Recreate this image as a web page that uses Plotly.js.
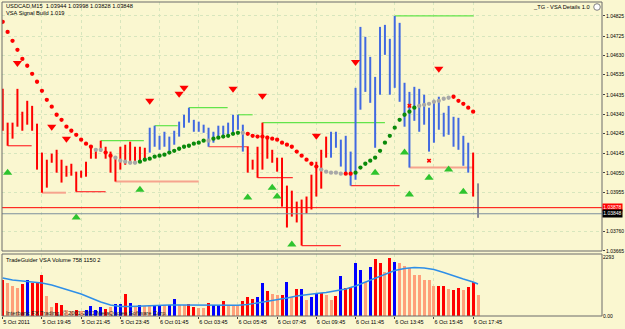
<!DOCTYPE html>
<html><head><meta charset="utf-8">
<script src="https://cdn.plot.ly/plotly-3.0.1.min.js"></script>
<style>html,body{margin:0;padding:0;background:#faf7d0;}#chart{width:625px;height:329px;}</style>
</head><body><div id="chart"></div>
<script>
// ---- main price bars (USDCAD M15) ----
const high = [1.04465,1.04298,1.04298,1.04465,1.04352,1.04406,1.04381,1.04293,1.04150,1.04115,
 1.04145,1.04164,1.04115,1.04085,1.04095,1.04056,1.04061,1.04105,1.04179,1.04164,
 1.04209,1.04179,1.04155,1.04130,1.04179,1.04189,1.04204,1.04179,1.04179,1.04174,
 1.04273,1.04283,1.04233,1.04253,1.04229,1.04258,1.04303,1.04337,1.04372,1.04312,
 1.04303,1.04288,1.04273,1.04253,1.04283,1.04283,1.04298,1.04337,1.04337,1.04288,
 1.04179,1.04115,1.04179,1.04298,1.04233,1.04164,1.04125,1.04125,1.03987,1.03962,
 1.03908,1.03918,1.03933,1.04041,1.04105,1.04164,1.04229,1.04253,1.04253,1.04214,
 1.04233,1.04155,1.04470,1.04771,1.04722,1.04623,1.04524,1.04771,1.04781,1.04712,
 1.04825,1.04791,1.04495,1.04450,1.04475,1.04465,1.04436,1.04372,1.04411,1.04426,
 1.04347,1.04381,1.04327,1.04322,1.04233,1.04199,1.04150,1.03998];
const low = [1.04258,1.04184,1.04219,1.04278,1.04258,1.04288,1.04258,1.04066,1.03952,1.03977,
 1.04100,1.04051,1.04002,1.04031,1.04036,1.03957,1.04026,1.04031,1.04120,1.04120,
 1.04155,1.04120,1.04051,1.04007,1.04066,1.04090,1.04105,1.04095,1.04105,1.04110,
 1.04150,1.04179,1.04164,1.04179,1.04159,1.04189,1.04229,1.04273,1.04298,1.04253,
 1.04253,1.04248,1.04179,1.04199,1.04219,1.04229,1.04233,1.04243,1.04263,1.04155,
 1.04051,1.04066,1.04026,1.04066,1.04120,1.04100,1.04056,1.03883,1.03780,1.03834,
 1.03805,1.03691,1.03849,1.03869,1.03933,1.03972,1.04125,1.04125,1.04174,1.04081,
 1.04041,1.03987,1.04016,1.04362,1.04450,1.04396,1.04174,1.04436,1.04633,1.04436,
 1.04470,1.04401,1.04278,1.04076,1.04307,1.04253,1.04288,1.04155,1.04199,1.04263,
 1.04229,1.04238,1.04179,1.04164,1.04085,1.04051,1.03933,1.03828];
// R = red bar, B = blue bar, K = current bar
const barKind = ["RRRRRRRRRR","RRRRRRRRRR","RRRRRRRRRR","BBBBBBBBBB","BBBBBBBBBB",
 "RRRRRRRRRR","RRRRRRRBBB","BBBBBBBBBB","BBBBBBBBBB","BBBBBBRK"].join("");

// ---- trend dots ----
const trendDot = [1.04796,1.04746,1.04702,1.04658,1.04613,1.04579,1.04539,1.04500,1.04455,1.04411,
 1.04377,1.04337,1.04312,1.04278,1.04258,1.04238,1.04214,1.04194,1.04179,1.04164,
 1.04164,1.04150,1.04135,1.04125,1.04110,1.04105,1.04100,1.04100,1.04105,1.04115,
 1.04120,1.04130,1.04135,1.04140,1.04150,1.04159,1.04169,1.04179,1.04184,1.04194,
 1.04199,1.04209,1.04209,1.04219,1.04224,1.04229,1.04233,1.04243,1.04248,1.04248,
 1.04243,1.04233,1.04229,1.04229,1.04224,1.04219,1.04214,1.04199,1.04189,1.04179,
 1.04155,1.04135,1.04115,1.04095,1.04081,1.04066,1.04056,1.04051,1.04051,1.04046,
 1.04046,1.04046,1.04051,1.04076,1.04095,1.04110,1.04125,1.04159,1.04199,1.04233,
 1.04273,1.04312,1.04337,1.04352,1.04372,1.04381,1.04386,1.04391,1.04401,1.04406,
 1.04416,1.04421,1.04426,1.04406,1.04391,1.04372,1.04352];
// R = down, G = up, N = neutral
const trendKind = ["RRRRRRRRRR","RRRRRRRRRN","NRRNNNNNGG","GGGGGGGGGG","GGNGGGGGGN",
 "RRRRRRRRRR","RRRRRNNNNN","RRGGGGGGGG","GGGGGNNNNN","NNRRRRR"].join("");

// ---- signals ----
const downSigX = [3,10,13,30,36,37,47,53,64,72,89];
const downSigY = [1.04593,1.04278,1.04219,1.04406,1.04441,1.04470,1.04465,1.04431,1.04233,1.04598,1.04564];
const upSigX = [1,15,28,50,55,56,59,76,82,83,87,91,94];
const upSigY = [1.04051,1.03829,1.03967,1.03928,1.03977,1.03933,1.03696,1.04051,1.04150,1.03943,1.04026,1.04066,1.03957];
const crossX = [83,87];
const crossY = [1.04381,1.04110];

// ---- support / resistance levels ----
const levelFrom  = [1, 8, 15, 20, 23, 31, 38, 42, 48, 52, 53, 61, 71, 80, 83];
const levelTo    = [5.9, 12.9, 21, 28.8, 40, 35.7, 45.9, 50.2, 51, 59.2, 78, 69, 81, 96.1, 96.1];
const levelPrice = [1.04184,1.03952,1.03957,1.04209,1.04007,1.04283,1.04372,1.04179,1.04337,1.04026,1.04298,1.03691,1.03987,1.04825,1.04076];
const levelKind  = "RSRGSGGRGRGRRGS";

const bidPrice = 1.03878, lastPrice = 1.03848;

// ---- volume ----
const volume = [1405,1310,1180,1120,1271,1405,1310,1338,1602,787,
 354,512,445,224,185,224,185,224,394,224,
 354,287,354,460,460,854,523,354,421,382,
 421,421,421,445,445,657,421,445,460,354,
 327,327,512,421,421,578,421,421,421,578,
 748,681,748,1299,972,877,814,838,1338,748,
 1051,1051,618,748,905,905,814,618,799,1574,
 1090,1153,2097,1810,1350,1940,2231,2097,1743,2293,
 2137,2074,1968,1877,1613,1613,1417,1417,1181,1181,
 1181,1062,1023,1102,1023,1141,1338,826];
const volKind = ["RSSSRBRRRS","SRRSSRSBBB","BRSBBRBSBS","SBBSBBSSRR","SSRBBRSSSR",
 "RRBBRSSRBS","RBSBBRSSRB","RRBBSBRRSR","BSSSSSSSSR","RSRRSRRS"].join("");
const volMaBars = [0,2,4,6,8,10,12,14,16,18,20,22,24,26,28,30,32,34,36,38,40,42,44,46,48,
 50,52,54,56,58,60,62,64,66,68,70,72,74,76,78,80,82,84,86,88,90,92,94,96,97];
const volMa = [1495,1417,1377,1338,1299,1220,1102,984,866,708,551,433,374,374,394,413,433,433,433,433,
 421,421,421,421,421,453,512,590,649,708,787,846,885,925,984,1062,1181,1338,1495,1653,
 1790,1869,1908,1889,1830,1712,1574,1456,1338,1259];

// ---- axis labels ----
const priceTicks = [1.04825,1.04725,1.04630,1.04535,1.04435,1.04340,1.04245,1.04145,1.04050,1.03955,1.03760,1.03665];
const priceTickText = ["1.04825","1.04725","1.04630","1.04535","1.04435","1.04340","1.04245","1.04145","1.04050","1.03955","1.03760","1.03665"];
const timeTickBars = [0,8,16,24,32,40,48,56,64,72,80,88,96];
const timeTickText = ["5 Oct 2011","5 Oct 19:45","5 Oct 21:45","5 Oct 23:45","6 Oct 01:45","6 Oct 03:45",
 "6 Oct 05:45","6 Oct 07:45","6 Oct 09:45","6 Oct 11:45","6 Oct 13:45","6 Oct 15:45","6 Oct 17:45"];
const volMax = 2293;

// ---------------- build ----------------
const BG = '#faf7d0';
const GRID = '#d7e6bd';
const traces = [];

function levelSegs(kind){
  const x=[],y=[];
  for(let i=0;i<levelKind.length;i++){ if(levelKind[i]!==kind) continue;
    x.push(levelFrom[i],levelTo[i],null); y.push(levelPrice[i],levelPrice[i],null); }
  return {x,y};
}
const levelStyle = {R:{color:'#ff3030',width:1.2},S:{color:'#f6a48e',width:2},G:{color:'#62e44a',width:1.2}};
['S','R','G'].forEach(k=>{ const s=levelSegs(k);
  traces.push({type:'scatter',mode:'lines',x:s.x,y:s.y,xaxis:'x',yaxis:'y',line:levelStyle[k],hoverinfo:'skip'}); });

function barSegs(kind){
  const x=[],y=[];
  for(let i=0;i<high.length;i++){ if(barKind[i]!==kind) continue;
    x.push(i,i,null); y.push(low[i],high[i],null); }
  return {x,y};
}
const barStyle = {R:{color:'#ff0000',width:2},B:{color:'#4169e1',width:2},K:{color:'#1c1c5a',width:1}};
['R','B','K'].forEach(k=>{ const s=barSegs(k);
  traces.push({type:'scatter',mode:'lines',x:s.x,y:s.y,xaxis:'x',yaxis:'y',line:barStyle[k],hoverinfo:'skip'}); });

const dotColor = {R:'#ff0000',N:'#a8a8a8',G:'#0a8a0a'};
['R','N','G'].forEach(k=>{ const x=[],y=[];
  for(let i=0;i<trendDot.length;i++){ if(trendKind[i]===k){x.push(i);y.push(trendDot[i]);} }
  traces.push({type:'scatter',mode:'markers',x,y,xaxis:'x',yaxis:'y',marker:{color:dotColor[k],size:4.3},hoverinfo:'skip'}); });

traces.push({type:'scatter',mode:'markers',x:downSigX,y:downSigY,xaxis:'x',yaxis:'y',
  marker:{symbol:'triangle-down',size:8,color:'#ff0000'},hoverinfo:'skip'});
traces.push({type:'scatter',mode:'markers',x:upSigX,y:upSigY,xaxis:'x',yaxis:'y',
  marker:{symbol:'triangle-up',size:8,color:'#2ec42e'},hoverinfo:'skip'});
traces.push({type:'scatter',mode:'markers',x:crossX,y:crossY,xaxis:'x',yaxis:'y',
  marker:{symbol:'x',size:4,color:'#ff0000'},hoverinfo:'skip'});

const volColor = {R:'#ff0000',B:'#0000ff',S:'#ffa07a'};
['S','R','B'].forEach(k=>{ const x=[],y=[];
  for(let i=0;i<volume.length;i++){ if(volKind[i]===k){x.push(i);y.push(volume[i]);} }
  traces.push({type:'bar',x,y,xaxis:'x',yaxis:'y2',width:0.6,marker:{color:volColor[k],line:{width:0}},hoverinfo:'skip'}); });
traces.push({type:'scatter',mode:'lines',x:volMaBars,y:volMa,xaxis:'x',yaxis:'y2',
  line:{color:'#2e8fe8',width:1.4},hoverinfo:'skip'});

const mainBottom = 65/314, volTop = 62/314;
const FONT = 'Liberation Sans, Arial, sans-serif';

const layout = {
  width:625, height:329,
  margin:{l:2,r:23,t:2,b:13,pad:0},
  paper_bgcolor:BG, plot_bgcolor:BG,
  showlegend:false, barmode:'overlay', bargap:0,
  font:{family:FONT,size:5.6,color:'#000'},
  xaxis:{range:[-0.15,122.3],anchor:'y2',tickvals:timeTickBars,ticktext:timeTickText,
    ticks:'outside',ticklen:2,tickcolor:'#444',ticklabelposition:'outside right',
    tickfont:{size:5.5},showgrid:true,gridcolor:GRID,griddash:'dot',gridwidth:1,
    zeroline:false,showline:false,fixedrange:true},
  yaxis:{domain:[mainBottom,1],range:[1.03664,1.04894],side:'right',anchor:'x',
    tickvals:priceTicks,ticktext:priceTickText,ticks:'outside',ticklen:2,tickcolor:'#444',
    tickfont:{size:5.0},showgrid:true,gridcolor:GRID,griddash:'dot',zeroline:false,showline:false},
  yaxis2:{domain:[0,volTop],range:[0,2440],side:'right',anchor:'x',
    tickvals:[0,volMax],ticktext:['0.00',String(volMax)],ticks:'',tickfont:{size:5.0},
    showgrid:false,zeroline:false,showline:false},
  shapes:[
    {type:'line',xref:'paper',x0:0,x1:1,yref:'y',y0:bidPrice,y1:bidPrice,line:{color:'#ff0000',width:1}},
    {type:'line',xref:'paper',x0:0,x1:1,yref:'y',y0:lastPrice,y1:lastPrice,line:{color:'#7d8f9c',width:1}},
    {type:'rect',xref:'paper',yref:'paper',x0:0,x1:1,y0:mainBottom,y1:1,line:{color:'#6a6a6a',width:1}},
    {type:'rect',xref:'paper',yref:'paper',x0:0,x1:1,y0:0,y1:volTop,line:{color:'#6a6a6a',width:1}},
    {type:'circle',xref:'paper',yref:'paper',x0:0.9862,x1:0.9972,y0:0.9736,y1:0.9946,
      line:{color:'#808080',width:1},fillcolor:'#ffffff'}
  ],
  annotations:[
    {xref:'paper',yref:'paper',x:0.0033,y:0.9873,xanchor:'left',yanchor:'middle',showarrow:false,
     text:'USDCAD,M15  1.03944 1.03998 1.03828 1.03848',font:{size:5.7}},
    {xref:'paper',yref:'paper',x:0.0033,y:0.9659,xanchor:'left',yanchor:'middle',showarrow:false,
     text:'VSA Signal Build 1.019',font:{size:5.7}},
    {xref:'paper',yref:'paper',x:0.9833,y:0.9841,xanchor:'right',yanchor:'middle',showarrow:false,
     text:'_TG - VSA Details 1.0',font:{size:5.7}},
    {xref:'paper',yref:'paper',x:0.0033,y:0.1783,xanchor:'left',yanchor:'middle',showarrow:false,
     text:'TradeGuider VSA Volume 758 1150 2',font:{size:5.7}},
    {xref:'paper',yref:'paper',x:0.0033,y:0.0096,xanchor:'left',yanchor:'middle',showarrow:false,
     text:'Interbank FX Trading, © 2001-2011 MetaQuotes Software Corp.',font:{size:5.7,color:'#222'}},
    {xref:'paper',yref:'y',x:1,y:bidPrice,xanchor:'left',yanchor:'middle',showarrow:false,
     text:'1.03878',bgcolor:'#ff0000',borderpad:0.3,font:{size:5.0,color:'#ffffff'}},
    {xref:'paper',yref:'y',x:1,y:lastPrice,xanchor:'left',yanchor:'middle',showarrow:false,
     text:'1.03848',bgcolor:'#000000',borderpad:0.3,font:{size:5.0,color:'#ffffff'}}
  ]
};
Plotly.newPlot('chart',traces,layout,{displayModeBar:false,staticPlot:true});
</script></body></html>
